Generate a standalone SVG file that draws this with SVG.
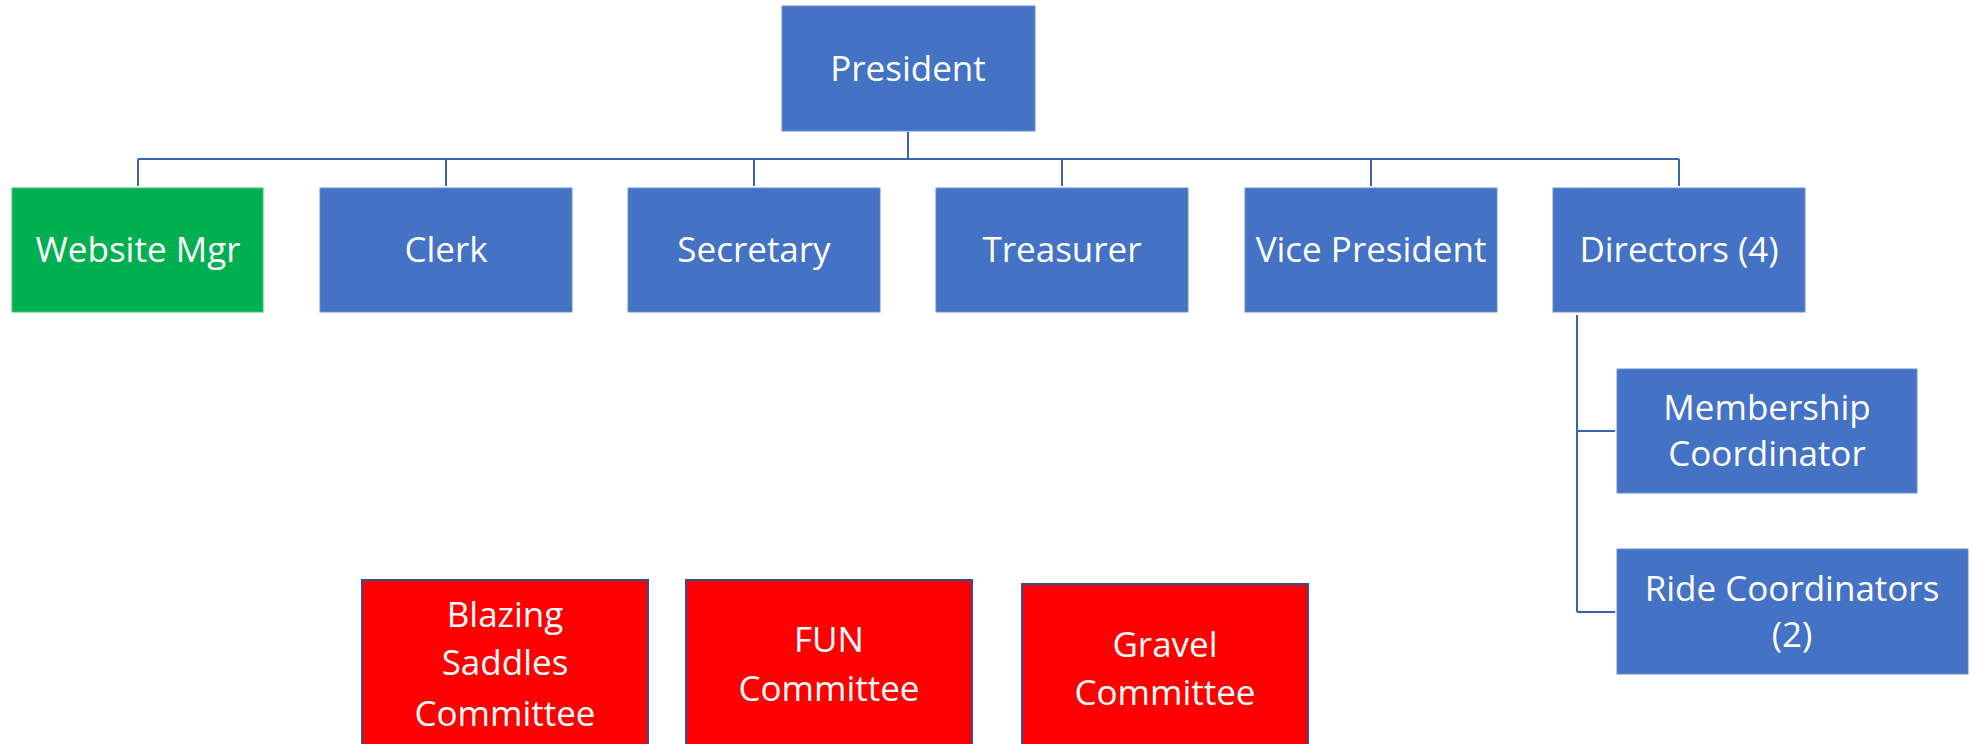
<svg xmlns="http://www.w3.org/2000/svg" width="1972" height="744" viewBox="0 0 1972 744">
<style>
.b{fill:#4472C4;stroke:#6B8FD4;stroke-width:1}
.g{fill:#00B050;stroke:#3CC47A;stroke-width:1}
.r{fill:#FF0000;stroke:#2F528F;stroke-width:2}
.t{font-family:"Open Sans","Liberation Sans",sans-serif;font-size:35px;fill:#FFFFFF;text-anchor:middle}
.c{fill:none;stroke:#3B64AD;stroke-width:2}
</style>
<rect width="1972" height="744" fill="#FFFFFF"/>
<g id="connectors">
<path class="c" d="M908 132V159M138 159H1679M138 159V186M446 159V186M754 159V186M1062 159V186M1371 159V186M1679 159V186"/>
<path class="c" d="M1577 315V612M1577 431H1615M1577 612H1615"/>
</g>
<g id="president"><rect class="b" x="782" y="6" width="253" height="125"/><text class="t" x="908" y="81">President</text></g>
<g id="website-mgr"><rect class="g" x="12" y="188" width="251" height="124"/><text class="t" x="138" y="262">Website Mgr</text></g>
<g id="clerk"><rect class="b" x="320" y="188" width="252" height="124"/><text class="t" x="446" y="262">Clerk</text></g>
<g id="secretary"><rect class="b" x="628" y="188" width="252" height="124"/><text class="t" x="754" y="262">Secretary</text></g>
<g id="treasurer"><rect class="b" x="936" y="188" width="252" height="124"/><text class="t" x="1062" y="262">Treasurer</text></g>
<g id="vice-president"><rect class="b" x="1245" y="188" width="252" height="124"/><text class="t" x="1371" y="262">Vice President</text></g>
<g id="directors"><rect class="b" x="1553" y="188" width="252" height="124"/><text class="t" x="1679" y="262">Directors (4)</text></g>
<g id="membership"><rect class="b" x="1617" y="369" width="300" height="124"/><text class="t" x="1767" y="420">Membership</text><text class="t" x="1767" y="466">Coordinator</text></g>
<g id="ride-coordinators"><rect class="b" x="1617" y="549" width="351" height="125"/><text class="t" x="1792" y="601">Ride Coordinators</text><text class="t" x="1792" y="647">(2)</text></g>
<g id="blazing-saddles"><rect class="r" x="362" y="580" width="286" height="180"/><text class="t" x="505" y="627">Blazing</text><text class="t" x="505" y="675">Saddles</text><text class="t" x="505" y="726">Committee</text></g>
<g id="fun"><rect class="r" x="686" y="580" width="286" height="180"/><text class="t" x="829" y="652">FUN</text><text class="t" x="829" y="701">Committee</text></g>
<g id="gravel"><rect class="r" x="1022" y="584" width="286" height="180"/><text class="t" x="1165" y="657">Gravel</text><text class="t" x="1165" y="705">Committee</text></g>
</svg>
